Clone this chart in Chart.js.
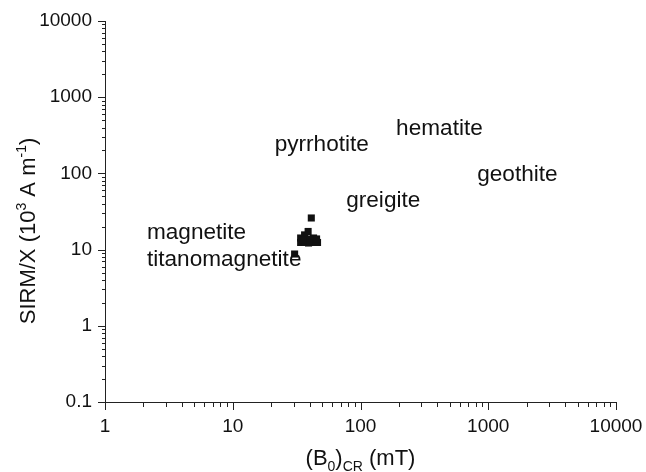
<!DOCTYPE html>
<html><head><meta charset="utf-8">
<script src="https://cdn.jsdelivr.net/npm/chart.js@4.4.0/dist/chart.umd.min.js"></script>
<style>html,body{margin:0;padding:0;background:#fff;}</style>
</head><body>
<canvas id="c" width="646" height="472" style="width:646px;height:472px;display:block"></canvas>
<script>
// ---- data ----
const xValues = [41.2, 38.9, 34.0, 34.0, 36.5, 36.5, 39.2, 41.4, 42.9, 46.1, 45.3, 39.2, 35.2, 30.5];
const yValues = [26.0, 17.3, 14.2, 12.4, 15.6, 12.4, 13.8, 12.4, 14.2, 12.4, 13.8, 12.2, 13.4, 8.75];
const xTickLabels = ['1', '10', '100', '1000', '10000'];
const yTickLabels = ['0.1', '1', '10', '100', '1000', '10000'];
const mineralNames = ['hematite', 'pyrrhotite', 'geothite', 'greigite', 'magnetite', 'titanomagnetite'];
const mineralX = [190, 21.3, 820, 77.3, 2.13, 2.13];
const mineralY = [386, 235, 95, 43.3, 16.7, 7.3];

const FONT = '"Liberation Sans", Arial, Helvetica, sans-serif';
const INK = '#111';

function drawRich(ctx, parts, x, y, align) {
  let total = 0;
  parts.forEach(p => { ctx.font = p[1] + 'px ' + FONT; total += ctx.measureText(p[0]).width; });
  let cx = align === 'center' ? x - total / 2 : x;
  parts.forEach(p => {
    ctx.font = p[1] + 'px ' + FONT;
    ctx.fillText(p[0], cx, y + p[2]);
    cx += ctx.measureText(p[0]).width;
  });
}

const decorPlugin = {
  id: 'decor',
  afterDatasetsDraw(chart) {
    const ctx = chart.ctx;
    const xs = chart.scales.x, ys = chart.scales.y;
    const L = Math.round(xs.left), R = Math.round(xs.right);
    const T = Math.round(ys.top), B = Math.round(ys.bottom);
    ctx.save();
    ctx.strokeStyle = '#222';
    ctx.lineWidth = 1;
    ctx.beginPath();
    ctx.moveTo(L + 0.5, T); ctx.lineTo(L + 0.5, B + 1);
    ctx.moveTo(L, B + 0.5); ctx.lineTo(R + 1, B + 0.5);
    for (let e = 0; e <= 4; e++) {
      for (let m = 1; m <= 9; m++) {
        const v = m * Math.pow(10, e);
        if (v > 10000) break;
        const px = Math.round(xs.getPixelForValue(v)) + 0.5;
        const len = m === 1 ? 8 : 5;
        ctx.moveTo(px, B); ctx.lineTo(px, B + len);
      }
    }
    for (let e = -1; e <= 4; e++) {
      for (let m = 1; m <= 9; m++) {
        const v = m * Math.pow(10, e);
        if (v > 10000 * 1.0001) break;
        const py = Math.round(ys.getPixelForValue(v)) + 0.5;
        const len = m === 1 ? 8 : 4;
        ctx.moveTo(L + 1, py); ctx.lineTo(L + 1 - len, py);
      }
    }
    ctx.stroke();

    ctx.fillStyle = INK;
    ctx.font = '22.6px ' + FONT;
    ctx.textAlign = 'left';
    ctx.textBaseline = 'middle';
    mineralNames.forEach((n, i) => {
      ctx.fillText(n, xs.getPixelForValue(mineralX[i]), ys.getPixelForValue(mineralY[i]));
    });

    ctx.textBaseline = 'alphabetic';
    drawRich(ctx, [['(B', 22, 0], ['0', 14, 6], [')', 22, 0], ['CR', 14, 6], [' (mT)', 22, 0]],
      (L + R) / 2, 465, 'center');

    ctx.save();
    ctx.translate(35, 231);
    ctx.rotate(-Math.PI / 2);
    drawRich(ctx, [['SIRM/X (10', 22, 0], ['3', 14, -9], [' A m', 22, 0], ['-1', 14, -9], [')', 22, 0]],
      0, 0, 'center');
    ctx.restore();
    ctx.restore();
  }
};

new Chart(document.getElementById('c'), {
  type: 'scatter',
  data: {
    datasets: [{
      data: xValues.map((x, i) => ({ x: x, y: yValues[i] })),
      pointStyle: 'rect',
      pointRadius: 5,
      pointHoverRadius: 5,
      backgroundColor: INK,
      borderColor: INK,
      borderWidth: 0
    }]
  },
  plugins: [decorPlugin],
  options: {
    responsive: false,
    devicePixelRatio: 1,
    animation: false,
    events: [],
    layout: { padding: { left: 0, top: 21, right: 30, bottom: 0 } },
    plugins: { legend: { display: false }, tooltip: { enabled: false }, title: { display: false } },
    scales: {
      x: {
        type: 'logarithmic', position: 'bottom', min: 1, max: 10000,
        grid: { display: false, drawTicks: false }, border: { display: false },
        afterBuildTicks: s => { s.ticks = xTickLabels.map(t => ({ value: +t })); },
        afterFit: s => { s.height = 70; s.paddingLeft = 0; s.paddingRight = 0; },
        ticks: {
          autoSkip: false, maxRotation: 0, padding: 13, color: INK,
          font: { family: FONT, size: 19 },
          callback: v => { const i = xTickLabels.findIndex(t => Math.abs(+t - v) < 1e-9 * Math.max(1, v)); return i >= 0 ? xTickLabels[i] : ''; }
        }
      },
      y: {
        type: 'logarithmic', position: 'left', min: 0.1, max: 10000,
        grid: { display: false, drawTicks: false }, border: { display: false },
        afterBuildTicks: s => { s.ticks = yTickLabels.map(t => ({ value: +t })); },
        afterFit: s => { s.width = 105; s.paddingTop = 0; s.paddingBottom = 0; },
        ticks: {
          autoSkip: false, padding: 13, color: INK,
          font: { family: FONT, size: 19 },
          callback: v => { const i = yTickLabels.findIndex(t => Math.abs(+t - v) < 1e-9 * Math.max(1, v)); return i >= 0 ? yTickLabels[i] : ''; }
        }
      }
    }
  }
});
</script>
</body></html>
